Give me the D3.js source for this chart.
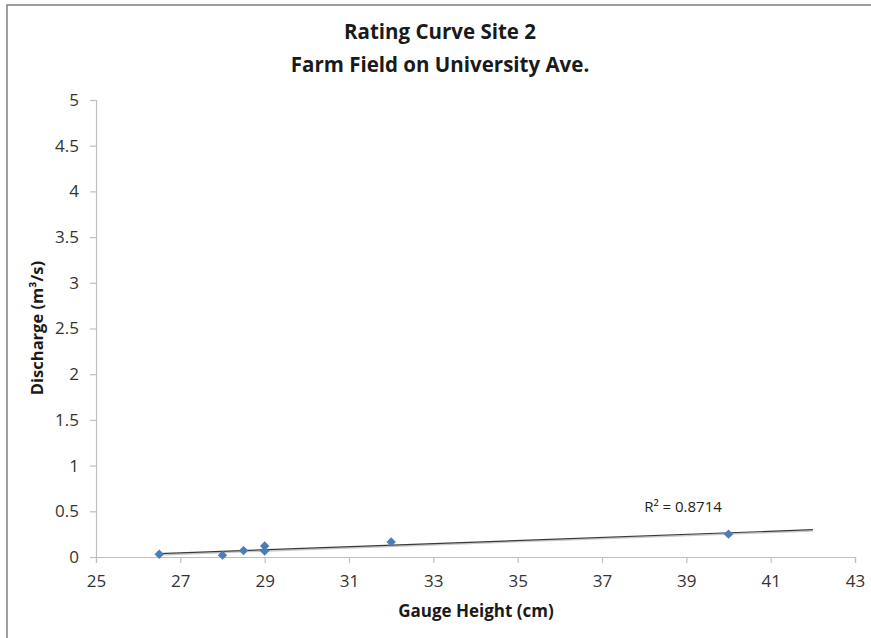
<!DOCTYPE html>
<html><head><meta charset="utf-8">
<script src="https://cdn.jsdelivr.net/npm/d3@7"></script>
<style>body{margin:0;background:#fff}svg{display:block}</style>
</head><body>
<svg id="c" width="871" height="638"></svg>
<script>
const gaugeHeight = [26.5, 28, 28.5, 29, 29, 32, 40];
const discharge   = [0.03, 0.02, 0.07, 0.12, 0.065, 0.165, 0.25];
const xTicks = [25, 27, 29, 31, 33, 35, 37, 39, 41, 43];
const yTicks = [0, 0.5, 1, 1.5, 2, 2.5, 3, 3.5, 4, 4.5, 5];
const titleLines = ["Rating Curve Site 2", "Farm Field on University Ave."];
const xLabel = "Gauge Height (cm)";
const yLabel = "Discharge (m³/s)";
const r2Label = "R² = 0.8714";
const trendEnd = 42;

const font = "'Open Sans', sans-serif";
const svg = d3.select("#c");
svg.append("rect").attr("x",7).attr("y",5).attr("width",900).attr("height",700)
  .attr("fill","#fff").attr("stroke","#7f7f7f").attr("stroke-width",1.5);

const x = d3.scaleLinear().domain([25,43]).range([96,855]);
const y = d3.scaleLinear().domain([0,5]).range([557,100]);

const axisColor = "#bfbfbf", textColor = "#333";

const ya = svg.append("g").attr("transform","translate(96,0)")
  .call(d3.axisLeft(y).tickValues(yTicks).tickSize(6).tickPadding(11).tickFormat(d=>String(d)));
const xa = svg.append("g").attr("transform","translate(0,557)")
  .call(d3.axisBottom(x).tickValues(xTicks).tickSize(6).tickPadding(12).tickFormat(d=>String(d)));
[ya,xa].forEach(a=>{
  a.selectAll("path,line").attr("stroke",axisColor).attr("stroke-width",1.2);
  a.selectAll("text").attr("fill",textColor).style("font-family",font).style("font-size","17px");
});

// trendline (least squares)
const n = gaugeHeight.length;
const mx = d3.mean(gaugeHeight), my = d3.mean(discharge);
let sxy=0, sxx=0;
for(let i=0;i<n;i++){sxy+=(gaugeHeight[i]-mx)*(discharge[i]-my); sxx+=(gaugeHeight[i]-mx)**2;}
const slope = sxy/sxx, icpt = my - slope*mx;
const x0 = d3.min(gaugeHeight);
svg.append("line")
  .attr("x1",x(x0)).attr("y1",y(icpt+slope*x0)+1.2)
  .attr("x2",x(trendEnd)).attr("y2",y(icpt+slope*trendEnd)+1.2)
  .attr("stroke","#c8c8c8").attr("stroke-width",1.5);
svg.append("line")
  .attr("x1",x(x0)).attr("y1",y(icpt+slope*x0))
  .attr("x2",x(trendEnd)).attr("y2",y(icpt+slope*trendEnd))
  .attr("stroke","#3a3a3a").attr("stroke-width",1.2);

svg.append("g").selectAll("path").data(gaugeHeight.map((g,i)=>[g,discharge[i]])).join("path")
  .attr("transform",d=>`translate(${x(d[0])},${y(d[1])})`)
  .attr("d",d3.symbol(d3.symbolDiamond2 || d3.symbolDiamond, 56)())
  .attr("fill","#4a7ebb");

svg.append("text").attr("x",683).attr("y",512).attr("text-anchor","middle")
  .style("font-family",font).style("font-size","15px").attr("fill","#222").text(r2Label);

svg.selectAll("text.title").data(titleLines).join("text").attr("class","title")
  .attr("x",440).attr("y",(d,i)=>39+i*33).attr("text-anchor","middle")
  .style("font-family",font).style("font-weight","bold").style("font-size","20.5px")
  .attr("fill","#1a1a1a").text(d=>d);

svg.append("text").attr("x",476).attr("y",617).attr("text-anchor","middle")
  .style("font-family",font).style("font-weight","bold").style("font-size","17px")
  .attr("fill","#1a1a1a").text(xLabel);
svg.append("text").attr("transform","translate(43,328) rotate(-90)").attr("text-anchor","middle")
  .style("font-family",font).style("font-weight","bold").style("font-size","16.5px")
  .attr("fill","#1a1a1a").text(yLabel);
</script>
</body></html>
